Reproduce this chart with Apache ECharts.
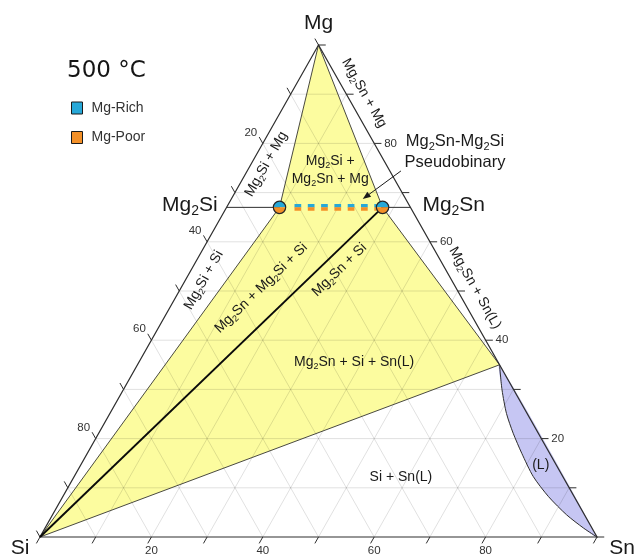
<!DOCTYPE html>
<html>
<head>
<meta charset="utf-8">
<title>Mg–Si–Sn isothermal section, 500 °C</title>
<script src="https://cdn.jsdelivr.net/npm/echarts@6/dist/echarts.min.js"></script>
<style>
  html, body { margin: 0; padding: 0; background: #fff; }
  #chart { width: 636px; height: 556px; }
</style>
</head>
<body>
<div id="chart"></div>
<script>
// Compositions are written as [Mg, Sn] in at.%; Si = 100 - Mg - Sn.
const sectionTitle = '500 °C';
const vertexNames = ['Mg', 'Si', 'Sn'];
const compoundNames = ['Mg2Si', 'Mg2Sn'];
const gridValues = [10, 20, 30, 40, 50, 60, 70, 80, 90];
const tickValues = [0, 10, 20, 30, 40, 50, 60, 70, 80, 90, 100];
const tickLabelValues = [20, 40, 60, 80];

// Shaded (solid + solid / three-phase) field: Mg, Mg2Si, Si, Sn(L) corner, Mg2Sn
const shadedRegion = [[100, 0], [67, 9.5], [0, 0], [35, 65], [67, 28]];
const mg2siPoint = [67, 9.5];
const mg2snPoint = [67, 28];
// Si–Mg2Sn tie line
const tieLine = [[0, 0], [67, 28]];
// Liquid (L) boundary, from the Mg2Sn + Si + Sn(L) corner down to pure Sn
const liquidBoundary = [
  [35, 65], [29.9, 68.0], [25.1, 71.2], [21.1, 74.4], [17.0, 78.0],
  [12.3, 82.4], [8.2, 87.2], [4.5, 92.3], [1.8, 96.7], [0, 100]
];

const seriesNames = ['Mg-Rich', 'Mg-Poor'];
const regionNames = [
  'Mg2Si + Mg', 'Mg2Si + Si', 'Mg2Sn + Mg', 'Mg2Sn + Sn(L)',
  'Mg2Si +\nMg2Sn + Mg', 'Mg2Sn + Mg2Si + Si', 'Mg2Sn + Si',
  'Mg2Sn + Si + Sn(L)', 'Si + Sn(L)', '(L)'
];
const pseudobinaryNote = 'Mg2Sn-Mg2Si\nPseudobinary';

// ---- layout of annotations (ternary anchor [Mg, Sn], rotation in degrees) ----
const regionLabelLayout = [
  { at: [75.8, 2.7], rot: 60.5 },
  { at: [52.2, 3.3], rot: 60.5 },
  { at: [90.2, 13.1], rot: -60.5 },
  { at: [50.6, 52.8], rot: -60.5 },
  { at: [74.6, 14.8], rot: 0 },
  { at: [50.6, 14.4], rot: 44 },
  { at: [54.3, 26.6], rot: 44 },
  { at: [35.6, 38.6], rot: 0 },
  { at: [12.2, 58.7], rot: 0 },
  { at: [14.6, 82.6], rot: 0 }
];
const noteLayout = { at: [78.2, 35.4], arrowFrom: [74.4, 27.6], arrowTo: [68.7, 23.6] };

const INK = '#1a1a1a';
const SANS = "'Liberation Sans', Arial, Helvetica, sans-serif";
const COLORS = {
  shaded: '#fcfc9f', liquid: '#c6c6f3', grid: 'rgba(0,0,0,0.12)',
  edge: '#2e2e2e', boundary: '#4a4a40', rich: '#27a8d8', poor: '#f39028'
};
const TICK = 1.3; // tick length, at.%

// ternary [Mg, Sn] -> cartesian [x, y] on 0..100 axes
const tern = (mg, sn) => [sn + mg / 2, mg];
const at = (api, c) => api.coord(tern(c[0], c[1]));

function richLine(str) {
  return str.split('\n').map(line =>
    line.split(/(\d)/).filter(s => s.length)
      .map(s => /^\d$/.test(s) ? '{s|' + s + '}' : '{n|' + s + '}').join('')
  ).join('\n');
}
function richStyles(size, color) {
  return {
    n: { fontSize: size, lineHeight: Math.round(size * 1.25), fontFamily: SANS, fill: color },
    s: { fontSize: Math.round(size * 0.66), lineHeight: Math.round(size * 0.66),
         verticalAlign: 'bottom', fontFamily: SANS, fill: color }
  };
}
function chemText(x, y, str, size, opt) {
  opt = opt || {};
  return {
    type: 'text', x: x, y: y, rotation: (opt.rot || 0) * Math.PI / 180,
    style: {
      text: richLine(str), rich: richStyles(size, opt.color || INK),
      align: opt.align || 'center', verticalAlign: 'middle'
    }
  };
}
function plainText(x, y, str, size, align) {
  return {
    type: 'text', x: x, y: y,
    style: { text: str, fontSize: size, fontFamily: SANS, fill: '#333',
             align: align || 'center', verticalAlign: 'middle' }
  };
}
function seg(p, q, stroke, width) {
  return { type: 'line', shape: { x1: p[0], y1: p[1], x2: q[0], y2: q[1] },
           style: { stroke: stroke, lineWidth: width } };
}
function layer(name, z, build, extra) {
  return Object.assign({
    type: 'custom', name: name, z: z, silent: true, coordinateSystem: 'cartesian2d',
    data: [[50, 50]], renderItem: (params, api) => ({ type: 'group', children: build(api) })
  }, extra || {});
}

const series = [
  // phase fields
  layer('fields', 1, api => {
    const lens = liquidBoundary.map(c => at(api, c));
    return [
      { type: 'polygon', shape: { points: shadedRegion.map(c => at(api, c)) },
        style: { fill: COLORS.shaded, stroke: null } },
      { type: 'polygon', shape: { points: lens, smooth: 0.25 },
        style: { fill: COLORS.liquid, stroke: null } }
    ];
  }),
  // composition grid
  layer('grid', 2, api => {
    const out = [];
    gridValues.forEach(v => {
      out.push(seg(at(api, [v, 0]), at(api, [v, 100 - v]), COLORS.grid, 1));        // const Mg
      out.push(seg(at(api, [0, v]), at(api, [100 - v, v]), COLORS.grid, 1));        // const Sn
      out.push(seg(at(api, [0, 100 - v]), at(api, [100 - v, 0]), COLORS.grid, 1));  // const Si
    });
    return out;
  }),
  // phase boundaries, triangle edges, ticks and tick labels
  layer('frame', 3, api => {
    const out = [];
    const region = shadedRegion.map(c => at(api, c));
    out.push({ type: 'polygon', shape: { points: region },
               style: { fill: null, stroke: COLORS.boundary, lineWidth: 1 } });
    out.push({ type: 'polyline', shape: { points: liquidBoundary.map(c => at(api, c)), smooth: 0.25 },
               style: { fill: null, stroke: COLORS.edge, lineWidth: 1 } });
    const mg = at(api, [100, 0]), si = at(api, [0, 0]), sn = at(api, [0, 100]);
    out.push({ type: 'polygon', shape: { points: [mg, si, sn] },
               style: { fill: null, stroke: COLORS.edge, lineWidth: 1.2 } });
    tickValues.forEach(v => {
      // Sn axis (bottom)
      out.push(seg(at(api, [0, v]), at(api, [-TICK, v]), COLORS.edge, 1));
      // Si axis (left)
      out.push(seg(at(api, [100 - v, 0]), at(api, [100 - v + TICK, -TICK]), COLORS.edge, 1));
      // Mg axis (right)
      out.push(seg(at(api, [v, 100 - v]), at(api, [v, 100 - v + TICK]), COLORS.edge, 1));
    });
    tickLabelValues.forEach(v => {
      const b = at(api, [0, v]);
      out.push(plainText(b[0], b[1] + 14, String(v), 11.5));
      const l = at(api, [100 - v, 0]);
      out.push(plainText(l[0] - 12, l[1] - 11, String(v), 11.5));
      const r = at(api, [v, 100 - v]);
      out.push(plainText(r[0] + 10, r[1], String(v), 11.5, 'left'));
    });
    // compound markers joined to their edges
    out.push(seg(at(api, [mg2siPoint[0], 0]), at(api, mg2siPoint), COLORS.edge, 1));
    out.push(seg(at(api, mg2snPoint), at(api, [mg2snPoint[0], 100 - mg2snPoint[0]]), COLORS.edge, 1));
    // Si - Mg2Sn tie line
    out.push({ type: 'polyline', shape: { points: tieLine.map(c => at(api, c)) },
               style: { fill: null, stroke: '#0a0a0a', lineWidth: 1.9 } });
    return out;
  })
];

// Mg-rich (upper) and Mg-poor (lower) halves of the pseudobinary section
function halfSeries(name, color, sign, z) {
  return layer(name, z, api => {
    const a = at(api, mg2siPoint), b = at(api, mg2snPoint);
    const y0 = a[1] + sign * 1.7, y1 = b[1] + sign * 1.7;
    const start = sign < 0 ? Math.PI : 0;
    const half = p => ({ type: 'sector',
      shape: { cx: p[0], cy: p[1], r0: 0, r: 6.2, startAngle: start, endAngle: start + Math.PI },
      style: { fill: color } });
    return [
      { type: 'line', shape: { x1: a[0] + 15, y1: y0, x2: b[0] - 6, y2: y1 },
        style: { stroke: color, lineWidth: 3.5, lineDash: [6.7, 6.6], lineCap: 'butt' } },
      half(a), half(b)
    ];
  }, { itemStyle: { color: color } });
}
series.push(halfSeries(seriesNames[0], COLORS.rich, -1, 4));
series.push(halfSeries(seriesNames[1], COLORS.poor, 1, 5));

// marker outlines, vertex / compound names, field labels, note and arrow
series.push(layer('labels', 6, api => {
  const out = [];
  [mg2siPoint, mg2snPoint].forEach(c => {
    const p = at(api, c);
    out.push({ type: 'circle', shape: { cx: p[0], cy: p[1], r: 6.2 },
               style: { fill: null, stroke: '#262626', lineWidth: 1.2 } });
  });
  const mg = at(api, [100, 0]), si = at(api, [0, 0]), sn = at(api, [0, 100]);
  out.push(chemText(mg[0], mg[1] - 22, vertexNames[0], 21));
  out.push(chemText(si[0] - 20, si[1] + 11, vertexNames[1], 21));
  out.push(chemText(sn[0] + 25, sn[1] + 11, vertexNames[2], 21));
  const le = at(api, [mg2siPoint[0], 0]);
  out.push(chemText(le[0] - 9, le[1] - 2, compoundNames[0], 21, { align: 'right' }));
  const re = at(api, [mg2snPoint[0], 100 - mg2snPoint[0]]);
  out.push(chemText(re[0] + 12, re[1] - 2, compoundNames[1], 21, { align: 'left' }));
  regionNames.forEach((txt, i) => {
    const L = regionLabelLayout[i];
    const p = at(api, L.at);
    out.push(chemText(p[0], p[1], txt, 14, { rot: L.rot }));
  });
  const np = at(api, noteLayout.at);
  out.push(chemText(np[0], np[1], pseudobinaryNote, 16.5));
  const f = at(api, noteLayout.arrowFrom), t = at(api, noteLayout.arrowTo);
  const dx = t[0] - f[0], dy = t[1] - f[1], len = Math.hypot(dx, dy);
  const ux = dx / len, uy = dy / len, nx = -uy, ny = ux;
  out.push(seg(f, [t[0] - ux * 5, t[1] - uy * 5], INK, 1));
  out.push({ type: 'polygon', shape: { points: [
      t, [t[0] - ux * 8 + nx * 3.2, t[1] - uy * 8 + ny * 3.2],
      [t[0] - ux * 8 - nx * 3.2, t[1] - uy * 8 - ny * 3.2]] },
    style: { fill: INK, stroke: null } });
  return out;
}));

const chart = echarts.init(document.getElementById('chart'));
chart.setOption({
  animation: false,
  backgroundColor: '#ffffff',
  title: {
    text: sectionTitle, left: 67, top: 60, padding: 0,
    textStyle: { fontSize: 23, fontWeight: 'normal', fontFamily: "'DejaVu Sans', sans-serif", color: '#151515' }
  },
  legend: {
    data: seriesNames, orient: 'vertical', left: 66, top: 96, selectedMode: false,
    icon: 'rect', itemWidth: 11, itemHeight: 12, itemGap: 15.5,
    itemStyle: { borderColor: '#1a1a1a', borderWidth: 1 },
    textStyle: { fontSize: 14, color: '#333', fontFamily: SANS, padding: [0, 0, 0, 4] }
  },
  grid: { left: 40, right: 39, top: 45, bottom: 19 },
  xAxis: { type: 'value', min: 0, max: 100, show: false },
  yAxis: { type: 'value', min: 0, max: 100, show: false },
  series: series
});
</script>
</body>
</html>
